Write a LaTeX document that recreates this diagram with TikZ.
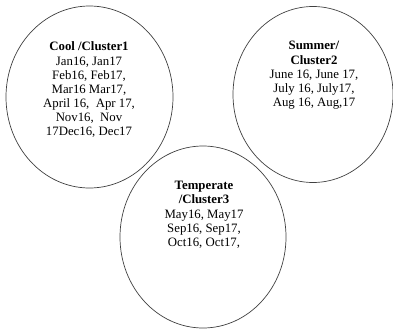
\documentclass[tikz,border=0pt]{standalone}
\usepackage{fontspec}
\setmainfont{Liberation Serif}
\usetikzlibrary{shapes.geometric}
\begin{document}
\begin{tikzpicture}[x=1pt,y=-1pt,
  cluster/.style={draw=black!75,line width=0.7pt,ellipse,inner sep=0pt},
  label/.style={align=center,anchor=north,inner sep=0pt,font=\fontsize{12.8}{14}\selectfont}]
\useasboundingbox (0,0) rectangle (393,332);
\node[cluster,minimum width=167pt,minimum height=182pt] (cool) at (89.5,97) {};
\node[cluster,minimum width=160pt,minimum height=176pt] (summer) at (313,94.5) {};
\node[cluster,minimum width=166pt,minimum height=182pt] (temp) at (203,237) {};
\node[label] (tcool) at (89,41) {\textbf{Cool /Cluster1}\\[1.5pt]Jan16, Jan17\\Feb16, Feb17,\\Mar16 Mar17,\\April 16,\ \ Apr 17,\\Nov16,\ \ Nov\\17Dec16, Dec17};
\node[label] (tsummer) at (314,40.5) {\textbf{Summer/}\\[1.5pt]\textbf{Cluster2}\\June 16, June 17,\\July 16, July17,\\Aug 16, Aug,17};
\node[label] (ttemp) at (204,180.5) {\textbf{Temperate}\\\textbf{/Cluster3}\\[1.5pt]May16, May17\\Sep16, Sep17,\\Oct16, Oct17,};
\end{tikzpicture}
\end{document}
